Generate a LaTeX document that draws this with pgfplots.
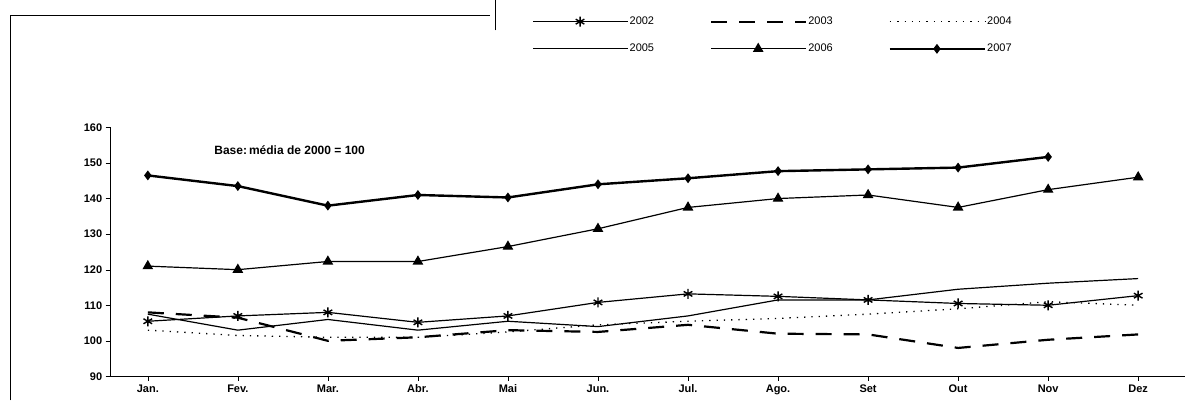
\documentclass[border=0pt]{standalone}
\usepackage{pgfplots}
\pgfplotsset{compat=1.18}
\usepackage{fontspec}
\setmainfont{Liberation Sans}
\begin{document}
\begin{tikzpicture}[x=1pt,y=1pt]
\path (0,0) rectangle (1195,403);
\draw[line width=1pt] (10,3)--(10,388)--(490,388);
\draw[line width=0.8pt] (495,373)--(495,403);
\begin{axis}[at={(110pt,27pt)},anchor=south west,scale only axis,
 width=1075pt,height=249pt,
 xmin=-0.42,xmax=11.52,ymin=90,ymax=160,
 axis x line*=bottom, axis y line*=left,
 xtick={0,...,11},
 xticklabels={Jan.,Fev.,Mar.,Abr.,Mai,Jun.,Jul.,Ago.,Set,Out,Nov,Dez},
 ytick={90,100,...,160},
 tick style={black},tick align=outside,
 ticklabel style={font=\fontsize{11}{13}\selectfont\bfseries},
 xticklabel style={text height=1.6ex,text depth=0.3ex},
 /pgf/number format/assume math mode=true,
 legend columns=3,
 legend style={draw=none,at={(0.39,1.46)},anchor=north west,
   font=\fontsize{11}{13}\selectfont,row sep=14pt,
   /tikz/every even column/.append style={column sep=55pt},
   nodes={inner xsep=1pt}},
 legend image code/.code={\draw[#1] (0pt,0pt)--(95pt,0pt); \path[#1,mark repeat=2,mark phase=2] plot coordinates {(0pt,0pt)(47pt,0pt)(95pt,0pt)};},
 clip=false]
\addplot[black,line width=1.2pt,mark=asterisk,mark size=5pt,mark options={line width=1.4pt}] coordinates {(0,105.5)(1,107)(2,108)(3,105.2)(4,107)(5,110.8)(6,113.2)(7,112.5)(8,111.5)(9,110.5)(10,110)(11,112.7)};
\addlegendentry{2002}
\addplot[black,line width=2.2pt,dash pattern=on 16pt off 12pt] coordinates {(0,108)(1,106.5)(2,100)(3,101)(4,103)(5,102.5)(6,104.5)(7,102)(8,101.8)(9,98)(10,100.3)(11,101.8)};
\addlegendentry{2003}
\addplot[black,line width=1.3pt,dash pattern=on 1.3pt off 6pt] coordinates {(0,103)(1,101.5)(2,101)(3,101)(4,102.5)(5,104.5)(6,105.5)(7,106.3)(8,107.5)(9,109)(10,111)(11,110)};
\addlegendentry{2004}
\addplot[black,line width=1.2pt] coordinates {(0,107.5)(1,103)(2,106)(3,103)(4,105.5)(5,104)(6,107)(7,111.5)(8,111.5)(9,114.5)(10,116.2)(11,117.5)};
\addlegendentry{2005}
\addplot[black,line width=1.2pt,mark=triangle*,mark size=5pt] coordinates {(0,121)(1,120)(2,122.3)(3,122.3)(4,126.5)(5,131.5)(6,137.5)(7,140)(8,141)(9,137.5)(10,142.5)(11,146)};
\addlegendentry{2006}
\addplot[black,line width=2.4pt,mark=diamond*,mark size=3pt] coordinates {(0,146.5)(1,143.5)(2,138)(3,141)(4,140.3)(5,144)(6,145.7)(7,147.7)(8,148.2)(9,148.7)(10,151.7)};
\addlegendentry{2007}
\node[anchor=west,font=\fontsize{12}{14}\selectfont\bfseries] at (axis cs:0.7,153.5) {Base:\,média de 2000 = 100};
\end{axis}
\end{tikzpicture}
\end{document}
